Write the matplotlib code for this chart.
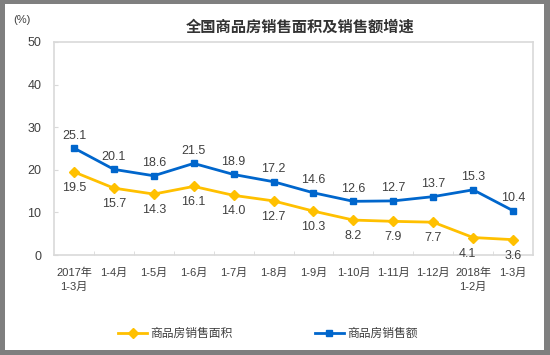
import numpy as np
import matplotlib
matplotlib.use("Agg")
import matplotlib.pyplot as plt
from matplotlib.patches import Rectangle

plt.rcParams['font.family'] = ['Liberation Sans', 'Noto Sans CJK SC', 'DejaVu Sans']

# data
months = ["2017年\n1-3月", "1-4月", "1-5月", "1-6月", "1-7月", "1-8月",
          "1-9月", "1-10月", "1-11月", "1-12月", "2018年\n1-2月", "1-3月"]
area_growth = [19.5, 15.7, 14.3, 16.1, 14.0, 12.7, 10.3, 8.2, 7.9, 7.7, 4.1, 3.6]
sales_growth = [25.1, 20.1, 18.6, 21.5, 18.9, 17.2, 14.6, 12.6, 12.7, 13.7, 15.3, 10.4]
area_name = "商品房销售面积"
sales_name = "商品房销售额"

yellow = "#FFC000"
blue = "#0066CC"
text_col = "#404040"
frame_col = "#D9D9D9"

fig = plt.figure(figsize=(5.5, 3.55), dpi=100)
fig.patch.set_facecolor("#7F7F7F")
fig.patches.append(Rectangle((5 / 550, 5 / 355), 539 / 550, 346 / 355,
                             transform=fig.transFigure, facecolor="white",
                             edgecolor="none", zorder=-1))

ax = fig.add_axes([54 / 550, 100 / 355, 479 / 550, 213 / 355])
ax.set_zorder(1)
x = np.arange(len(months))

ax.plot(x, area_growth, color=yellow, lw=2, marker="D", ms=5,
        label=area_name, zorder=3)
ax.plot(x, sales_growth, color=blue, lw=2, marker="s", ms=5,
        label=sales_name, zorder=3)

for xi, v in zip(x, sales_growth):
    ax.annotate(f"{v:.1f}", (xi, v), xytext=(0, 9), textcoords="offset points",
                ha="center", va="center", fontsize=9, color=text_col)
for xi, v in zip(x, area_growth):
    dx = -4 if xi == 10 else 0
    ax.annotate(f"{v:.1f}", (xi, v), xytext=(dx, -11.5), textcoords="offset points",
                ha="center", va="center", fontsize=9, color=text_col)

ax.set_xlim(-0.5, len(months) - 0.5)
ax.set_ylim(0, 50)
ax.set_yticks([0, 10, 20, 30, 40, 50])
ax.set_xticks(x)
ax.set_xticklabels(months, fontsize=8, color=text_col, linespacing=1.5)
ax.set_xticks(np.arange(0.5, len(months) - 1, 1), minor=True)
ax.tick_params(axis="x", which="major", length=0, pad=9)
ax.tick_params(axis="x", which="minor", direction="in", length=3, color=frame_col)
ax.tick_params(axis="y", direction="in", length=3, color=frame_col, pad=9,
               labelsize=9, labelcolor=text_col)
for s in ax.spines.values():
    s.set_color(frame_col)
    s.set_linewidth(1.2)

fig.text(13 / 550, 1 - 20 / 355, "(%)", fontsize=8, color=text_col,
         ha="left", va="center")
fig.text(300 / 550, 1 - 27 / 355, "全国商品房销售面积及销售额增速", fontsize=11,
         color="#333333", ha="center", va="center", fontweight="bold")

fig.legend(loc="center", bbox_to_anchor=(268 / 550, 1 - 334 / 355), ncol=2,
           frameon=False, fontsize=8.5, handlelength=2.4, columnspacing=7,
           handletextpad=0.3, labelcolor=text_col)

fig.savefig("out.png", dpi=100, facecolor=fig.get_facecolor())
